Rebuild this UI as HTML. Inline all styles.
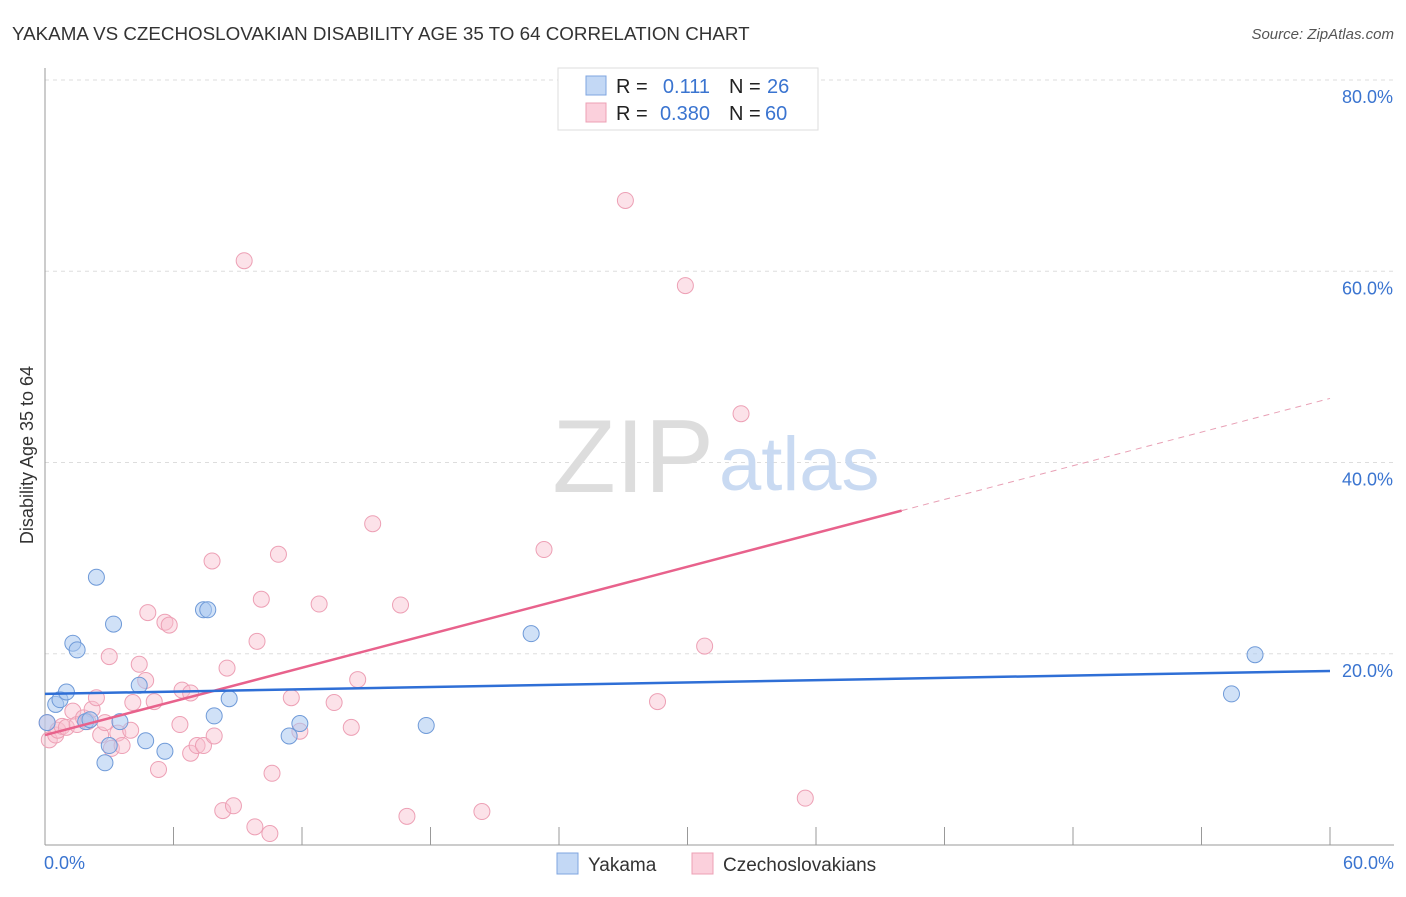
<!DOCTYPE html>
<html><head><meta charset="utf-8"><style>
body{margin:0;background:#fff;font-family:"Liberation Sans",sans-serif;}
svg text{font-family:"Liberation Sans",sans-serif;}
</style></head><body>
<svg id="chart" width="1406" height="892">
<text x="12" y="40" font-size="18.8" fill="#333">YAKAMA VS CZECHOSLOVAKIAN DISABILITY AGE 35 TO 64 CORRELATION CHART</text>
<text x="1394" y="39" font-size="15" fill="#555" font-style="italic" text-anchor="end">Source: ZipAtlas.com</text>
<g id="grid"></g>
<text x="714" y="492" font-size="104" fill="#ddd" text-anchor="end" font-family="Liberation Serif">ZIP</text>
<text x="719" y="490" font-size="76" fill="#c9daf2">atlas</text>
<g id="axes"></g>
<g id="marks"></g>
<text x="33" y="455" font-size="18" fill="#333" text-anchor="middle" transform="rotate(-90 33 455)">Disability Age 35 to 64</text>
<g>
<rect x="558" y="68" width="260" height="62" fill="#fff" stroke="#ddd"/>
<rect x="586" y="76" width="20" height="19" fill="#c3d8f5" stroke="#7fa6e0"/>
<rect x="586" y="103" width="20" height="19" fill="#fbd0dc" stroke="#eda0b5"/>
<text x="616" y="93" font-size="20" fill="#222">R =</text><text x="710" y="93" font-size="20" fill="#3a74d0" text-anchor="end">0.111</text>
<text x="729" y="93" font-size="20" fill="#222">N =</text><text x="767" y="93" font-size="20" fill="#3a74d0">26</text>
<text x="616" y="120" font-size="20" fill="#222">R =</text><text x="710" y="120" font-size="20" fill="#3a74d0" text-anchor="end">0.380</text>
<text x="729" y="120" font-size="20" fill="#222">N =</text><text x="765" y="120" font-size="20" fill="#3a74d0">60</text>
</g>
<g>
<rect x="557" y="853" width="21" height="21" fill="#c3d8f5" stroke="#7fa6e0"/>
<text x="588" y="871" font-size="19" fill="#333">Yakama</text>
<rect x="692" y="853" width="21" height="21" fill="#fbd0dc" stroke="#eda0b5"/>
<text x="723" y="871" font-size="19" fill="#333">Czechoslovakians</text>
</g>
</svg>
<script>
const yakamaX=[0.1,0.5,0.7,1.0,1.3,1.5,2.4,3.2,1.9,2.1,3.5,3.0,2.8,4.4,4.7,5.6,7.4,7.6,7.9,8.6,11.4,11.9,17.8,22.7,56.5,55.4];
const yakamaY=[12.8,14.7,15.2,16.0,21.1,20.4,28.0,23.1,12.9,13.1,12.9,10.4,8.6,16.7,10.9,9.8,24.6,24.6,13.5,15.3,11.4,12.7,12.5,22.1,19.9,15.8];
const czechX=[0.1,0.2,0.5,0.6,0.8,1.0,1.3,1.5,1.8,2.0,2.2,2.4,2.6,2.8,3.0,3.1,3.4,3.6,4.0,4.1,4.4,4.7,4.8,5.1,5.3,5.6,5.8,6.3,6.4,6.8,6.8,7.1,7.4,7.8,7.9,8.3,8.5,8.8,9.3,9.8,9.9,10.1,10.5,10.6,10.9,11.5,11.9,12.8,13.5,14.3,14.6,15.3,16.6,16.9,20.4,23.3,27.1,28.6,29.9,30.8,32.5,35.5];
const czechY=[12.8,11.0,11.5,12.0,12.4,12.3,14.0,12.6,13.3,12.9,14.2,15.4,11.5,12.8,19.7,10.1,11.7,10.4,12.0,14.9,18.9,17.2,24.3,15.0,7.9,23.3,23.0,12.6,16.2,15.9,9.6,10.4,10.4,29.7,11.4,3.6,18.5,4.1,61.1,1.9,21.3,25.7,1.2,7.5,30.4,15.4,11.9,25.2,14.9,12.3,17.3,33.6,25.1,3.0,3.5,30.9,67.4,15.0,58.5,20.8,45.1,4.9];
const trendX=[0,60];
const yakamaTrend=[15.8,18.2];
const czechTrend=[11.5,46.7];
const czechSolidEnd=40;
const xTicks=[0,6,12,18,24,30,36,42,48,54,60];
const yTicks=[20,40,60,80];
const xLabels=["0.0%","60.0%"];
const ns="http://www.w3.org/2000/svg";
const xs=v=>45+v/60*1285, ys=v=>845-v/80*765;
function mk(parent,tag,attrs){const e=document.createElementNS(ns,tag);for(const k in attrs)e.setAttribute(k,attrs[k]);document.getElementById(parent).appendChild(e);return e;}
yTicks.forEach(t=>{
 const l=mk('grid','line',{x1:45,x2:1394,y1:ys(t),y2:ys(t),stroke:'#ddd','stroke-dasharray':'4,4'});
 
 
 const tx=mk('grid','text',{x:1393,y:ys(t)+23,'font-size':18,fill:'#3a74d0','text-anchor':'end'});tx.textContent=t.toFixed(1)+'%';
 
 
});
mk('axes','line',{x1:45,x2:45,y1:68,y2:845,stroke:'#999'});
mk('axes','line',{x1:45,x2:1394,y1:845,y2:845,stroke:'#999'});
xTicks.forEach(t=>{const l=mk('axes','line',{x1:xs(t),x2:xs(t),y1:827,y2:845,stroke:'#999'});
 
 });
[[0,'start',44],[60,'end',1394]].forEach((d,i)=>{const t=mk('axes','text',{x:d[2],y:869,'font-size':18,fill:'#3a74d0','text-anchor':d[1]});t.textContent=xLabels[i];
 
 });
czechX.forEach((x,i)=>{const c=mk('marks','circle',{cx:xs(x),cy:ys(czechY[i]),r:8,fill:'rgba(248,190,207,0.45)',stroke:'#eda0b5','stroke-width':1});
 
 });
yakamaX.forEach((x,i)=>{const c=mk('marks','circle',{cx:xs(x),cy:ys(yakamaY[i]),r:8,fill:'rgba(170,200,240,0.55)',stroke:'#6f9ad8','stroke-width':1});
 
 });
const cy=x=>czechTrend[0]+(czechTrend[1]-czechTrend[0])*(x-trendX[0])/(trendX[1]-trendX[0]);
const t1=mk('marks','line',{x1:xs(trendX[0]),y1:ys(cy(trendX[0])),x2:xs(czechSolidEnd),y2:ys(cy(czechSolidEnd)),stroke:'#e8628c','stroke-width':2.5});


const t2=mk('marks','line',{x1:xs(czechSolidEnd),y1:ys(cy(czechSolidEnd)),x2:xs(trendX[1]),y2:ys(cy(trendX[1])),stroke:'#e8a0b5','stroke-width':1,'stroke-dasharray':'6,5'});


const t3=mk('marks','line',{x1:xs(trendX[0]),y1:ys(yakamaTrend[0]),x2:xs(trendX[1]),y2:ys(yakamaTrend[1]),stroke:'#2f6fd6','stroke-width':2.5});


</script>
</body></html>
